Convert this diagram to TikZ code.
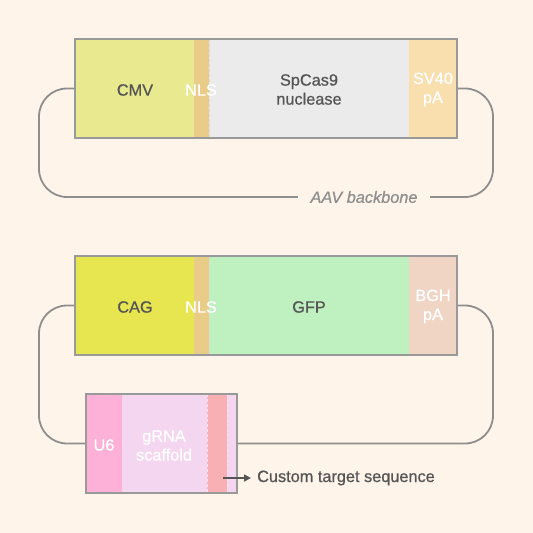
\documentclass[tikz,border=0pt]{standalone}
\usepackage{fontspec}
\setmainfont{Liberation Sans}
\newfontfamily\medfont{Liberation Sans}[FakeBold=0.8]
\newfontfamily\meditfont{Liberation Sans Italic}[FakeBold=0.6]
\usetikzlibrary{arrows.meta}
\definecolor{bg}{HTML}{FEF4EA}
\definecolor{frame}{HTML}{999999}
\definecolor{conn}{HTML}{8E8E8E}
\definecolor{txt}{HTML}{555555}
\definecolor{cmv}{HTML}{E9E98F}
\definecolor{nls}{HTML}{E9CC88}
\definecolor{cas}{HTML}{EBEBEB}
\definecolor{sv}{HTML}{F9DFAE}
\definecolor{cag}{HTML}{E8E650}
\definecolor{gfp}{HTML}{BFF0BF}
\definecolor{bgh}{HTML}{F0D5C5}
\definecolor{usix}{HTML}{FDB0D8}
\definecolor{scaf}{HTML}{F5D6F0}
\definecolor{tgt}{HTML}{F9B0B4}
\definecolor{sep}{HTML}{DADADA}
\tikzset{
  framebox/.style={draw=frame, line width=2pt, inner sep=0pt, fill=none},
  dark/.style={text=txt, font=\medfont\fontsize{16.3}{19}\selectfont, align=center},
  light/.style={text=white, font=\medfont\fontsize{16.3}{19}\selectfont, align=center},
  connector/.style={draw=conn, line width=1.8pt, rounded corners=28pt},
  sepline/.style={draw=sep, line width=1pt, dash pattern=on 3pt off 2pt}
}
\begin{document}
\begin{tikzpicture}[x=1pt,y=-1pt]
\fill[bg] (0,0) rectangle (533,533);
\useasboundingbox (0,0) rectangle (533,533);
% ---------- top cassette ----------
\fill[cmv] (75,39) rectangle (194,138);
\fill[nls] (194,39) rectangle (209,138);
\fill[cas] (209,39) rectangle (409,138);
\fill[sv] (409,39) rectangle (457,138);
\draw[sepline] (209,39) -- (209,138);
\node[framebox, minimum width=382pt, minimum height=99pt] (f1) at (266,88.5) {};
\node[dark] (cmvt) at (135,90) {CMV};
\node[light] (nls1) at (201,90) {NLS};
\node[dark] (cast) at (309,89.5) {SpCas9\\nuclease};
\node[light] (svt) at (433,89.5) {SV40\\pA};
% backbone
\node[text=conn, font=\meditfont\fontsize{16.3}{19}\selectfont, inner sep=0pt, minimum width=132pt] (aav) at (364,197) {AAV backbone};
\draw[connector] (f1.west) -- (39,88.5) -- (39,197) -- (aav.west);
\draw[connector] (aav.east) -- (493,197) -- (493,88.5) -- (f1.east);
% ---------- bottom cassette ----------
\fill[cag] (75,256) rectangle (194,355);
\fill[nls] (194,256) rectangle (209,355);
\fill[gfp] (209,256) rectangle (409,355);
\fill[bgh] (409,256) rectangle (457,355);
\draw[sepline] (209,256) -- (209,355);
\node[framebox, minimum width=382pt, minimum height=99pt] (f2) at (266,305.5) {};
\node[dark] (cagt) at (135,307) {CAG};
\node[light] (nls2) at (201,307) {NLS};
\node[dark] (gfpt) at (309,307) {GFP};
\node[light] (bght) at (433,306.5) {BGH\\pA};
% gRNA cassette
\fill[usix] (86,394) rectangle (122,493);
\fill[scaf] (122,394) rectangle (237,493);
\fill[tgt] (207,394) rectangle (227,493);
\draw[sepline, draw=scaf!70!white] (207,394) -- (207,493);
\draw[sepline, draw=scaf!70!white] (227,394) -- (227,493);
\node[framebox, minimum width=151pt, minimum height=99pt] (g) at (161.5,443.5) {};
\node[light] (u6t) at (104,445) {U6};
\node[light] (scaft) at (164,445.5) {gRNA\\scaffold};
\draw[connector] (f2.west) -- (39,305.5) -- (39,443.5) -- (g.west);
\draw[connector] (f2.east) -- (493,305.5) -- (493,443.5) -- (g.east);
% custom target arrow
\coordinate (arrs) at (223,478);
\node[dark, anchor=west, inner sep=0pt] (ct) at (257,478) {Custom target sequence};
\draw[draw=txt, line width=1.6pt, -{Triangle[length=7pt,width=7pt]}, shorten >=6pt] (arrs) -- (ct.west);
\end{tikzpicture}
\end{document}
